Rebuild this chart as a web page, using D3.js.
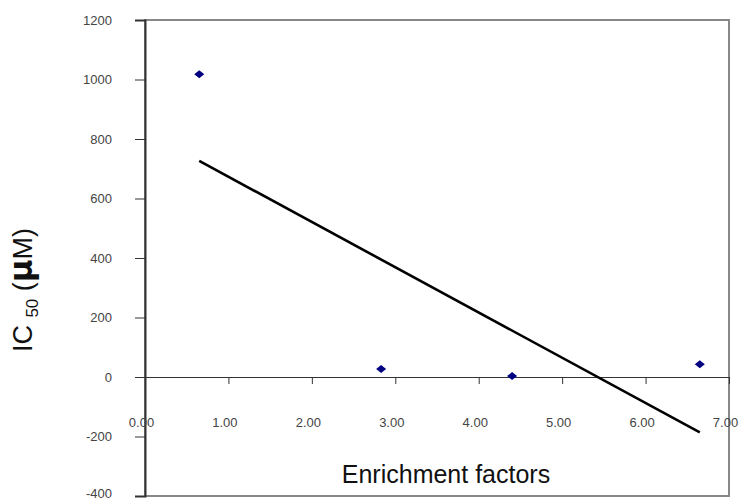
<!DOCTYPE html>
<html><head><meta charset="utf-8">
<script src="https://cdn.jsdelivr.net/npm/d3@7"></script>
<style>body{margin:0;background:#fff}svg{display:block}</style>
</head><body>
<svg id="c" width="741" height="502"></svg>
<script>
const xValues = [0.65, 2.83, 4.40, 6.65];
const yValues = [1018, 27, 3, 43];
const xTicks = [0, 1, 2, 3, 4, 5, 6, 7];
const yTicks = [-400, -200, 0, 200, 400, 600, 800, 1000, 1200];
const xTitle = "Enrichment factors";

const svg = d3.select("#c");
const L = 145, R = 729, T = 20, B = 496;
const x = d3.scaleLinear().domain([0, 7]).range([L, R]);
const y = d3.scaleLinear().domain([-400, 1200]).range([B, T]);

// plot border (gray)
svg.append("rect").attr("x", L).attr("y", T).attr("width", R - L).attr("height", B - T)
  .attr("fill", "none").attr("stroke", "#888").attr("stroke-width", 2);

// y axis
const ya = svg.append("g").attr("transform", `translate(${L},0)`)
  .call(d3.axisLeft(y).tickValues(yTicks).tickSize(10).tickPadding(23).tickFormat(d => String(d)));
ya.select(".domain").attr("stroke", "#333").attr("stroke-width", 2);
ya.selectAll(".tick line").attr("stroke", "#333");
ya.selectAll("text").attr("font-family", "Liberation Sans, Arial, sans-serif")
  .attr("font-size", 13).attr("fill", "#444")
  .attr("dy", d => d === -400 ? "0.1em" : "0.32em");

// x axis at y=0
const xa = svg.append("g").attr("transform", `translate(0,${y(0)})`)
  .call(d3.axisBottom(x).tickValues(xTicks).tickSize(7).tickSizeOuter(0).tickPadding(34).tickFormat(d => d.toFixed(2)));
xa.select(".domain").attr("stroke", "#333").attr("stroke-width", 1.2);
xa.selectAll(".tick line").attr("stroke", "#333");
xa.selectAll("text").attr("font-family", "Liberation Sans, Arial, sans-serif")
  .attr("font-size", 13).attr("fill", "#444").attr("dx", -4);

// linear trendline (least squares, like spreadsheet trendline)
const n = xValues.length;
const mx = d3.mean(xValues), my = d3.mean(yValues);
let sxy = 0, sxx = 0;
for (let i = 0; i < n; i++) { sxy += (xValues[i] - mx) * (yValues[i] - my); sxx += (xValues[i] - mx) ** 2; }
const slope = sxy / sxx, icpt = my - slope * mx;
const x0 = d3.min(xValues), x1 = d3.max(xValues);
svg.append("line")
  .attr("x1", x(x0)).attr("y1", y(icpt + slope * x0))
  .attr("x2", x(x1)).attr("y2", y(icpt + slope * x1))
  .attr("stroke", "#000").attr("stroke-width", 2.6);

// markers
svg.append("g").selectAll("path").data(xValues).join("path")
  .attr("transform", (d, i) => `translate(${x(d)},${y(yValues[i])})`)
  .attr("d", "M-5,0L0,-4L5,0L0,4Z")
  .attr("fill", "#000080");

// axis titles
svg.append("text").attr("x", 446).attr("y", 483).attr("text-anchor", "middle")
  .attr("font-family", "Liberation Sans, Arial, sans-serif").attr("font-size", 25).attr("fill", "#111")
  .text(xTitle);

const yt = svg.append("text").attr("transform", "translate(32,290) rotate(-90)").attr("text-anchor", "middle")
  .attr("font-family", "Liberation Sans, Arial, sans-serif").attr("font-size", 27).attr("fill", "#111");
yt.append("tspan").text("IC ");
yt.append("tspan").attr("font-size", 17).attr("dy", 6).text("50");
yt.append("tspan").attr("dy", -6).text(" (");
yt.append("tspan").attr("font-weight", "bold").attr("font-size", 31).attr("font-family", "DejaVu Sans, sans-serif").text("μ");
yt.append("tspan").text("M)");
</script>
</body></html>
